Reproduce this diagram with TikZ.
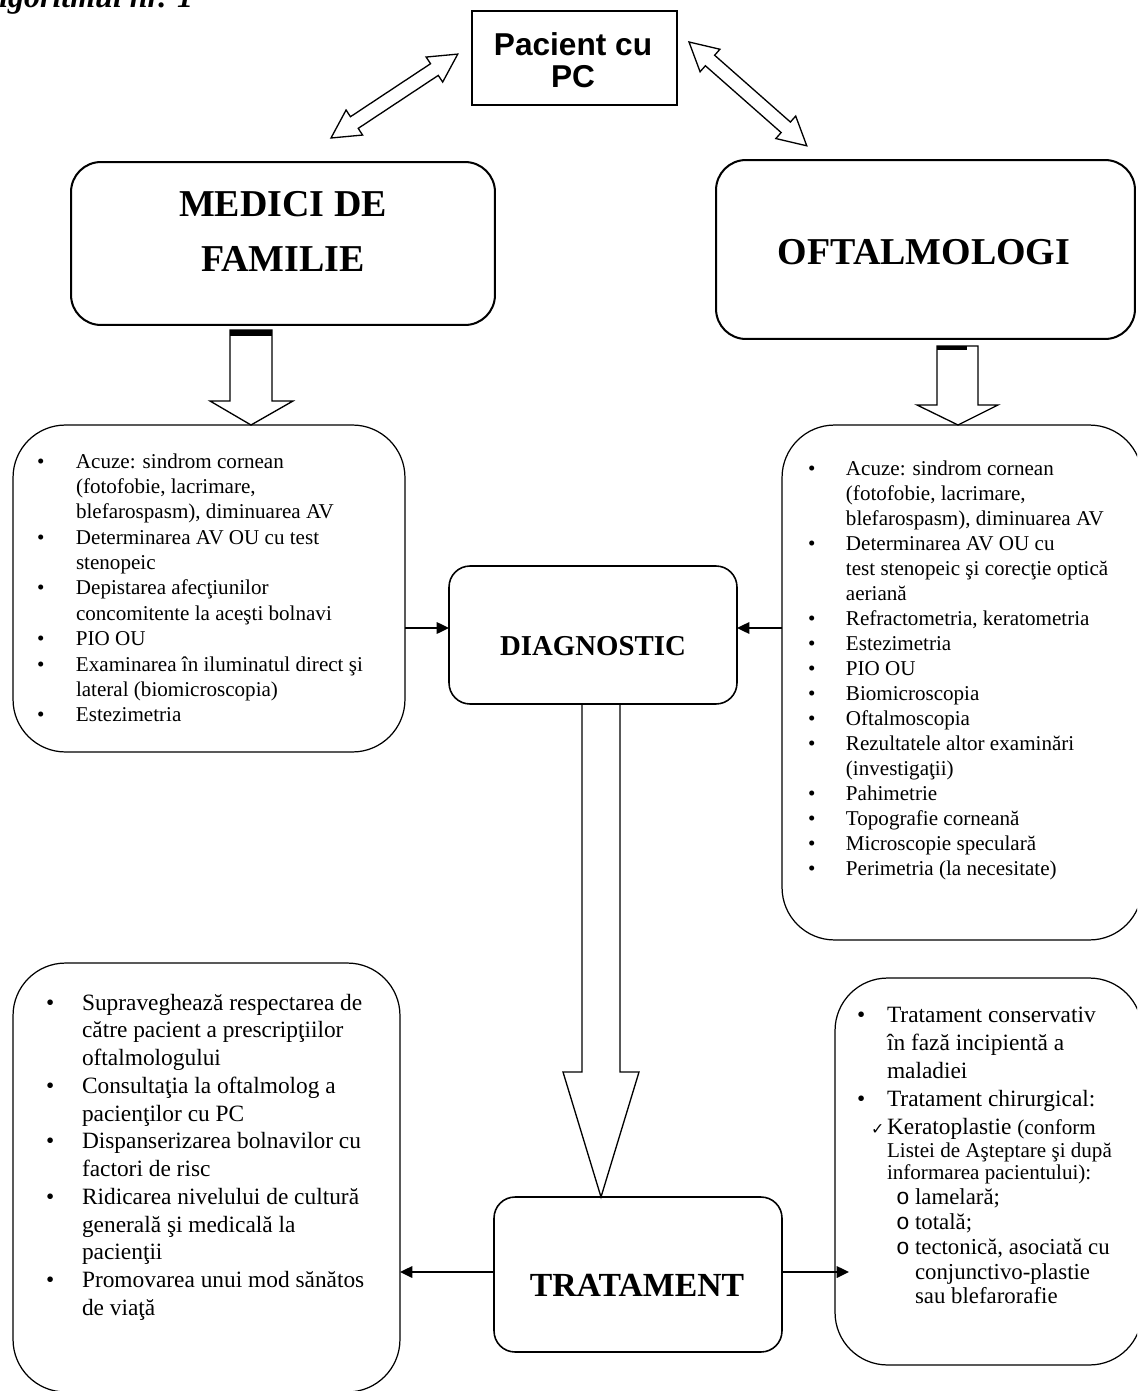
\documentclass[tikz,border=0pt]{standalone}
\usepackage{fontspec}
\setmainfont{Liberation Serif}
\newfontfamily\arialf{Liberation Sans}
\newfontfamily\monof{Liberation Mono}
\newfontfamily\symf{DejaVu Sans}
\usetikzlibrary{arrows.meta,calc}

\newlength\bw
\newcommand\bi{\makebox[\bw][l]{\textbullet}}
\newcommand\ci{\hspace*{\bw}}

\begin{document}
\begin{tikzpicture}[x=0.02cm,y=-0.02cm,
  every node/.style={inner sep=0pt, outer sep=0pt},
  pbox/.style={draw, line width=0.85pt},
  headbox/.style={draw, line width=1.15pt, rounded corners=0.6cm},
  listbox/.style={draw, line width=0.7pt, rounded corners=1.05cm},
  stagebox/.style={draw, line width=0.9pt, rounded corners=0.42cm},
  blockarr/.style={draw, line width=0.75pt, fill=white, line join=miter},
  conn/.style={line width=1.1pt, -{Triangle[length=7pt,width=6.5pt]}},
  lst/.style={anchor=base west, font=\fontsize{12}{14.45}\selectfont},
  lstb/.style={anchor=base west, font=\fontsize{13.3}{15.8}\selectfont},
  brl/.style={anchor=base west, font=\fontsize{13.3}{14}\selectfont},
  brs/.style={anchor=base west, font=\fontsize{12}{12}\selectfont},
  brm/.style={anchor=base west, font=\fontsize{13}{13}\selectfont},
  headtxt/.style={anchor=base, font=\bfseries\fontsize{21.6}{22}\selectfont},
]
\clip (0,0) rectangle (1137,1391);

% heading of the page, partly cut at the top edge
\node[anchor=base east, font=\bfseries\itshape\fontsize{18.2}{18}\selectfont] (title) at (193,8) {Algoritmul nr. 1};

% patient box
\node[pbox, minimum width=4.1cm, minimum height=1.88cm] (pac) at (574.5,58) {};
\node[anchor=base, font=\arialf\bfseries\fontsize{18}{18}\selectfont] (pact1) at (573,56) {Pacient cu};
\node[anchor=base, font=\arialf\bfseries\fontsize{18}{18}\selectfont] (pact2) at (573,88) {PC};

% two-headed block arrows from the patient box
\begin{scope}[shift={(331,138)}, rotate=33.5]
  \draw[blockarr] (0,0) -- (28,15) -- (28,7) -- (124,7) -- (124,15) -- (152,0)
    -- (124,-15) -- (124,-7) -- (28,-7) -- (28,-15) -- cycle;
\end{scope}
\begin{scope}[shift={(689,42)}, rotate=-41.4]
  \draw[blockarr] (0,0) -- (28,15) -- (28,7) -- (129,7) -- (129,15) -- (157,0)
    -- (129,-15) -- (129,-7) -- (28,-7) -- (28,-15) -- cycle;
\end{scope}

% main boxes
\node[headbox, minimum width=8.48cm, minimum height=3.26cm] (med) at (283,243.5) {};
\node[headtxt] (medt1) at (283,217) {MEDICI DE};
\node[headtxt] (medt2) at (283,272) {FAMILIE};

\node[headbox, minimum width=8.38cm, minimum height=3.58cm] (oft) at (925.5,249.5) {};
\node[headtxt] (oftt) at (924,265) {OFTALMOLOGI};

\node[listbox, minimum width=7.84cm, minimum height=6.54cm] (ll) at (209,588.5) {};
\node[listbox, minimum width=7.2cm, minimum height=10.3cm] (rl) at (962,682.5) {};

\node[stagebox, minimum width=5.76cm, minimum height=2.76cm] (diag) at (593,635) {};
\node[anchor=base, font=\bfseries\fontsize{16.4}{17}\selectfont] (diagt) at (593,655) {DIAGNOSTIC};

\node[stagebox, minimum width=5.76cm, minimum height=3.1cm] (trat) at (638,1274.5) {};
\node[anchor=base, font=\bfseries\fontsize{19.2}{20}\selectfont] (tratt) at (637,1296) {TRATAMENT};

\node[listbox, minimum width=7.74cm, minimum height=8.58cm] (bl) at (206.5,1177.5) {};
\node[listbox, minimum width=6.14cm, minimum height=7.74cm] (br) at (988.5,1171.5) {};

% downward block arrows
\draw[blockarr] (230,330) -- (272,330) -- (272,401) -- (293,401) -- (251,425)
  -- (210,401) -- (230,401) -- cycle;
\fill (230,330) rectangle (272,336);
\draw[blockarr] (937,346) -- (978,346) -- (978,405) -- (998,405) -- (958,425)
  -- (917,405) -- (937,405) -- cycle;
\fill (937,346) rectangle (967,350);
\draw[blockarr] (582,705) -- (582,1072) -- (563,1072) -- (601,1197) -- (639,1072)
  -- (620,1072) -- (620,705);

% connectors
\draw[conn] (ll.east |- 0,628) -- (diag.west |- 0,628);
\draw[conn] (rl.west |- 0,628) -- (diag.east |- 0,628);
\draw[conn] (trat.west |- 0,1272) -- (bl.east |- 0,1272);
\draw[conn] (trat.east |- 0,1272) -- ($(br.west |- 0,1272)+(14,0)$);

% family doctor examination list
\node[lst] (llt) at (37,468) {\setlength\bw{22.2pt}\begin{tabular}[t]{@{}l@{}}
\bi Acuze: sindrom cornean\\
\ci (fotofobie, lacrimare,\\
\ci blefarospasm), diminuarea AV\\
\bi Determinarea AV OU cu test\\
\ci stenopeic\\
\bi Depistarea afecţiunilor\\
\ci concomitente la aceşti bolnavi\\
\bi PIO OU\\
\bi Examinarea în iluminatul direct şi\\
\ci lateral (biomicroscopia)\\
\bi Estezimetria
\end{tabular}};

% ophthalmologist examination list
\node[lst, font=\fontsize{12}{14.2}\selectfont] (rlt) at (808,476) {\setlength\bw{21.6pt}\begin{tabular}[t]{@{}l@{}}
\bi Acuze: sindrom cornean\\
\ci (fotofobie, lacrimare,\\
\ci blefarospasm), diminuarea AV\\
\bi Determinarea AV OU cu\\
\ci test stenopeic şi corecţie optică\\
\ci aeriană\\
\bi Refractometria, keratometria\\
\bi Estezimetria\\
\bi PIO OU\\
\bi Biomicroscopia\\
\bi Oftalmoscopia\\
\bi Rezultatele altor examinări\\
\ci (investigaţii)\\
\bi Pahimetrie\\
\bi Topografie corneană\\
\bi Microscopie speculară\\
\bi Perimetria (la necesitate)
\end{tabular}};

% family doctor follow-up list
\node[lstb] (blt) at (46,1010) {\setlength\bw{20.5pt}\begin{tabular}[t]{@{}l@{}}
\bi Supraveghează respectarea de\\
\ci către pacient a prescripţiilor\\
\ci oftalmologului\\
\bi Consultaţia la oftalmolog a\\
\ci pacienţilor cu PC\\
\bi Dispanserizarea bolnavilor cu\\
\ci factori de risc\\
\bi Ridicarea nivelului de cultură\\
\ci generală şi medicală la\\
\ci pacienţii\\
\bi Promovarea unui mod sănătos\\
\ci de viaţă
\end{tabular}};

% treatment list
\node[brl] (brb1) at (857,1022) {\textbullet};
\node[brl] (br1) at (887,1022) {Tratament conservativ};
\node[brl] (br2) at (887,1050) {în fază incipientă a};
\node[brl] (br3) at (887,1078) {maladiei};
\node[brl] (brb2) at (857,1106) {\textbullet};
\node[brl] (br4) at (887,1106) {Tratament chirurgical:};
\node[brl] (brc) at (871,1134) {\symf\fontsize{9}{10}\selectfont ✓};
\node[brl] (br5) at (887,1134) {Keratoplastie {\fontsize{12}{12}\selectfont(conform}};
\node[brs] (br6) at (887,1157) {Listei de Aşteptare şi după};
\node[brs] (br7) at (887,1179) {informarea pacientului):};
\node[brm] (bro1) at (896,1204) {\monof o};
\node[brm] (br8) at (915,1204) {lamelară;};
\node[brm] (bro2) at (896,1229) {\monof o};
\node[brm] (br9) at (915,1229) {totală;};
\node[brm] (bro3) at (896,1254) {\monof o};
\node[brm] (br10) at (915,1254) {tectonică, asociată cu};
\node[brm] (br11) at (915,1279) {conjunctivo-plastie};
\node[brm] (br12) at (915,1303) {sau blefarorafie};
\end{tikzpicture}
\end{document}
